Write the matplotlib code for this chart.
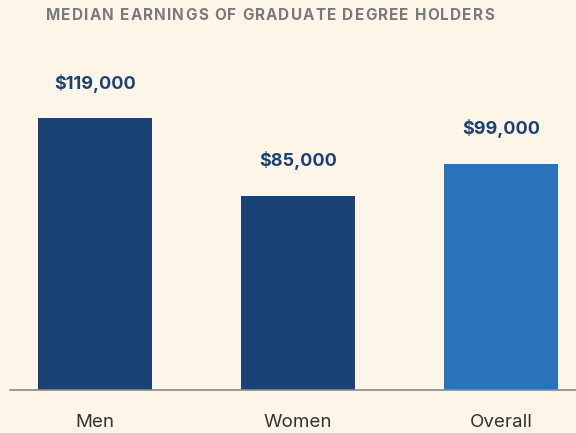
import matplotlib
matplotlib.use("Agg")
import matplotlib.pyplot as plt

# Data
categories = ["Men", "Women", "Overall"]
earnings = [119000, 85000, 99000]
value_labels = ["$119,000", "$85,000", "$99,000"]
bar_colors = ["#1a4274", "#1a4274", "#2a72ba"]
title = "MEDIAN EARNINGS OF GRADUATE DEGREE HOLDERS"

BG = "#fef5e9"
W, H = 576, 433
plt.rcParams['font.family'] = ['Inter', 'DejaVu Sans']

fig = plt.figure(figsize=(W / 100, H / 100), dpi=100, facecolor=BG)
ax = fig.add_axes([10 / W, 43 / H, 566 / W, 350 / H], facecolor=BG)

x = range(len(categories))
ax.bar(x, earnings, width=0.56, color=bar_colors, zorder=2)

# value labels above bars
for i, (v, lab) in enumerate(zip(earnings, value_labels)):
    ax.annotate(lab, (i, v), xytext=(0, 25), textcoords="offset points",
                ha="center", va="center", fontsize=13, fontweight="bold",
                color="#1a4274")

ax.set_xlim(-0.42, 2.37)
ax.set_ylim(0, 153125)

for s in ["top", "right", "left"]:
    ax.spines[s].set_visible(False)
ax.spines["bottom"].set_color("#8a8a8a")
ax.spines["bottom"].set_linewidth(1.2)
ax.set_yticks([])
ax.set_xticks(list(x))
ax.set_xticklabels(categories, fontsize=13.5, color="#333333")
ax.tick_params(axis="x", length=0, pad=17)

# title with letter spacing, drawn char by char
renderer = fig.canvas.get_renderer()
tprops = dict(fontsize=11, fontweight="bold", color="#7a7a7a", va="center", ha="left")
tracking = 1.2  # px

def text_width(s):
    if not s:
        return 0.0
    t = fig.text(0, 0, s, **tprops)
    w = t.get_window_extent(renderer).width
    t.remove()
    return w

total = text_width(title) + tracking * (len(title) - 1)
x0 = 270 - total / 2
ty = 1 - 16 / H
for i, ch in enumerate(title):
    if ch == " ":
        continue
    px = x0 + text_width(title[:i]) + tracking * i
    fig.text(px / W, ty, ch, **tprops)

fig.savefig("out.png", dpi=100, facecolor=BG)
